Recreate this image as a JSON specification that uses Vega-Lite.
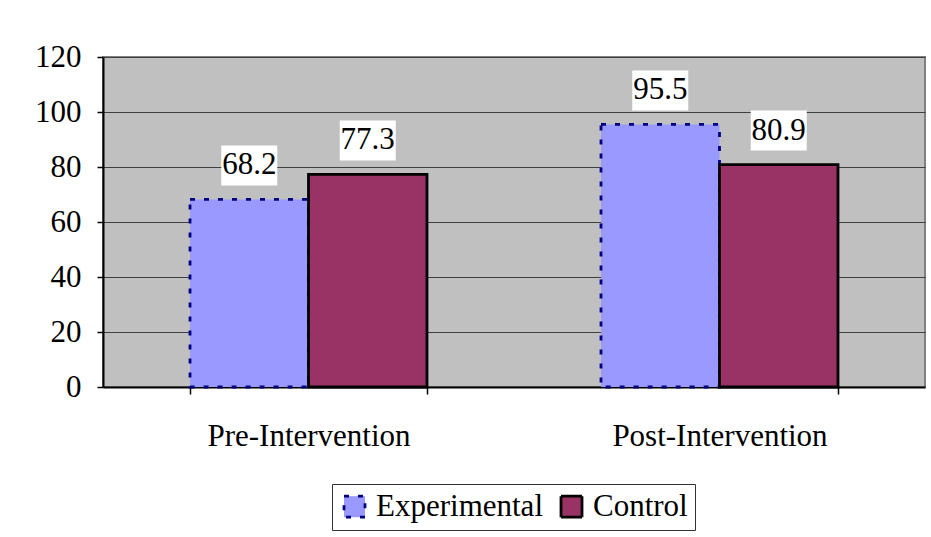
{
  "$schema": "https://vega.github.io/schema/vega-lite/v6.json",
  "width": 822,
  "height": 330,
  "autosize": {"type": "none"},
  "padding": {"left": 103, "top": 57, "right": 6, "bottom": 150},
  "background": "white",
  "config": {
    "font": "Liberation Serif",
    "text": {"font": "Liberation Serif", "fontSize": 31},
    "view": {"fill": "#C0C0C0", "stroke": "#808080", "strokeWidth": 2},
    "axis": {"labelFont": "Liberation Serif", "labelFontSize": 31, "labelColor": "black", "domainColor": "black", "tickColor": "black", "title": null, "labelLimit": 0},
    "legend": {"labelFont": "Liberation Serif", "labelFontSize": 31, "labelColor": "black", "labelLimit": 0}
  },
  "data": {
    "values": [
      {"phase": "Pre-Intervention", "group": "Experimental", "value": 68.2},
      {"phase": "Pre-Intervention", "group": "Control", "value": 77.3},
      {"phase": "Post-Intervention", "group": "Experimental", "value": 95.5},
      {"phase": "Post-Intervention", "group": "Control", "value": 80.9}
    ]
  },
  "encoding": {
    "x": {
      "field": "phase", "type": "nominal", "sort": ["Pre-Intervention", "Post-Intervention"],
      "scale": {"paddingInner": 0.4234, "paddingOuter": 0.2117},
      "axis": {"labelAngle": 0, "tickBand": "extent", "tickSize": 7, "tickWidth": 1.5, "domainWidth": 2, "labelPadding": 27, "labelBaseline": "top", "labelFont": "Liberation Serif", "labelFontSize": 31}
    },
    "xOffset": {"field": "group", "type": "nominal", "sort": ["Experimental", "Control"], "scale": {"paddingInner": 0, "paddingOuter": 0}},
    "y": {
      "field": "value", "type": "quantitative",
      "scale": {"domain": [0, 120], "nice": false},
      "axis": {"values": [0, 20, 40, 60, 80, 100, 120], "tickSize": 6, "tickWidth": 1.5, "domainWidth": 2, "labelPadding": 16, "gridColor": "#404040", "gridWidth": 1, "gridOpacity": 1, "labelFont": "Liberation Serif", "labelFontSize": 31}
    }
  },
  "layer": [
    {
      "mark": {"type": "bar"},
      "encoding": {
        "fill": {"field": "group", "type": "nominal", "sort": ["Experimental", "Control"], "scale": {"range": ["#9999FF", "#993366"]},
          "legend": {"title": null, "orient": "none", "legendX": 229, "legendY": 427, "direction": "horizontal", "strokeColor": "#333333", "padding": 7, "symbolType": "square", "symbolSize": 441, "symbolStrokeWidth": 2.8, "labelOffset": 6, "columnPadding": 12, "labelFont": "Liberation Serif", "labelFontSize": 31,
            "encode": {"symbols": {"update": {"stroke": {"scale": "stroke", "field": "value"}, "strokeDash": {"scale": "strokeDash", "field": "value"}, "strokeWidth": {"value": 2.8}}}}}},
        "stroke": {"field": "group", "type": "nominal", "sort": ["Experimental", "Control"], "scale": {"range": ["#000080", "#000000"]}, "legend": null},
        "strokeDash": {"field": "group", "type": "nominal", "sort": ["Experimental", "Control"], "scale": {"range": [[5, 9], [1, 0]]}, "legend": null},
        "strokeWidth": {"value": 2.8}
      }
    },
    {
      "mark": {"type": "bar", "color": "white", "size": 56, "yOffset": -54, "y2Offset": -14},
      "encoding": {
        "y2": {"field": "value"}
      }
    },
    {
      "mark": {"type": "text", "font": "Liberation Serif", "fontSize": 31, "color": "black", "baseline": "middle", "align": "center", "dy": -34},
      "encoding": {
        "text": {"field": "value", "type": "quantitative", "format": ".1f"}
      }
    }
  ]
}
